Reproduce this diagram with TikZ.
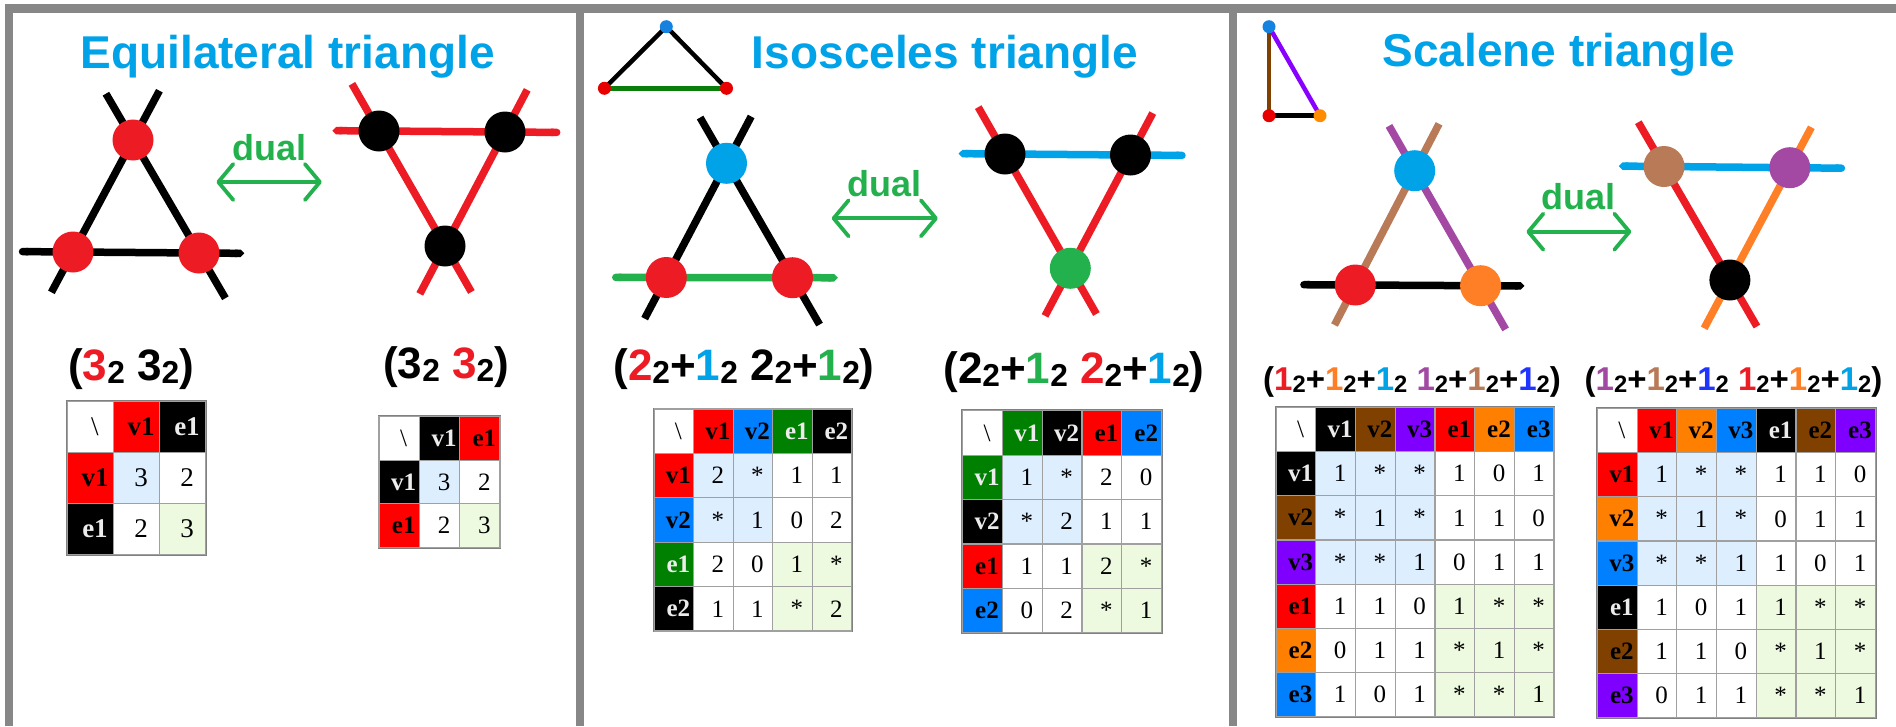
\documentclass[tikz,border=0pt]{standalone}
\usepackage{fontspec}
\setmainfont{Liberation Serif}
\newfontfamily\arialf{Liberation Sans}
\usetikzlibrary{arrows.meta,calc,matrix}

% drawing colours
\definecolor{dred}{HTML}{ED1C24}
\definecolor{dblue}{HTML}{00A2E8}
\definecolor{dgreen}{HTML}{22B14C}
\definecolor{dbrown}{HTML}{B97A57}
\definecolor{dpurple}{HTML}{A349A4}
\definecolor{dorange}{HTML}{FF7F27}
\definecolor{deepblue}{HTML}{1F35FF}
\definecolor{panelgray}{HTML}{878787}
% icon colours
\definecolor{iblue}{HTML}{1582E0}
\definecolor{ired}{HTML}{E80000}
\definecolor{igreen}{HTML}{0A7D0A}
\definecolor{iorange}{HTML}{FF8C00}
\definecolor{ibrown}{HTML}{7F4000}
\definecolor{ipurple}{HTML}{8800FF}
% table colours
\definecolor{tred}{HTML}{FF0000}
\definecolor{tblue}{HTML}{0080FF}
\definecolor{tgreen}{HTML}{008000}
\definecolor{tbrown}{HTML}{804000}
\definecolor{tpurple}{HTML}{8000FF}
\definecolor{torange}{HTML}{FF8000}
\definecolor{vvblue}{HTML}{DDEEFF}
\definecolor{eegreen}{HTML}{EEFADF}
\definecolor{cellgray}{HTML}{A0A0A0}
\definecolor{tblgray}{HTML}{808080}

\newcommand\tabnorm{\fontsize{25pt}{27pt}\selectfont}
\newcommand\tabbig{\fontsize{27pt}{29pt}\selectfont}
\newcommand\twosub{\raisebox{-0.08em}{\scalebox{0.72}{2}}}
\newcommand\dgt[2]{\textcolor{#1}{#2}\twosub}

\pgfdeclarelayer{back}
\pgfsetlayers{back,main}

\tikzset{
  panelbar/.style={draw=panelgray, line width=8.5pt},
  ttl/.style={anchor=base, text=dblue, font=\arialf\bfseries\fontsize{46pt}{50pt}\selectfont},
  fml/.style={anchor=base, font=\arialf\bfseries\fontsize{44pt}{48pt}\selectfont},
  fmls/.style={anchor=base, font=\arialf\bfseries\fontsize{33pt}{36pt}\selectfont},
  bigdot/.style={circle, minimum size=41pt, inner sep=0pt},
  idot/.style={circle, minimum size=13pt, inner sep=0pt},
  tline/.style={line width=7.5pt},
  hline/.style={line width=7.5pt, line cap=round},
  iline/.style={line width=4.5pt},
  dualarr/.style={{Straight Barb[length=15pt, width=36pt, round]}-{Straight Barb[length=15pt, width=36pt, round]}, line width=3.8pt, draw=dgreen},
  dualtxt/.style={anchor=base, yshift=22pt, text=dgreen, font=\arialf\bfseries\fontsize{36pt}{40pt}\selectfont},
  tbl/.style={matrix of nodes, draw=tblgray, line width=1.5pt, inner sep=0pt, column sep=-1.2pt, row sep=-1.2pt},
  cell/.style={draw=cellgray, line width=1.2pt, fill=white, inner sep=0pt, anchor=center, execute at begin node=\hspace*{9pt}},
  hd/.style={execute at begin node=\bfseries},
  hr/.style={hd, fill=tred},
  hb/.style={hd, fill=tblue},
  hg/.style={hd, fill=tgreen, text=gray!15},
  hk/.style={hd, fill=black, text=gray!15},
  hn/.style={hd, fill=tbrown},
  hp/.style={hd, fill=tpurple},
  ho/.style={hd, fill=torange},
  vv/.style={fill=vvblue},
  ee/.style={fill=eegreen},
}

\begin{document}
\begin{tikzpicture}[x=1pt, y=-1pt]
\begin{pgfonlayer}{back}
\fill[white] (0,0) rectangle (1896,726);
\end{pgfonlayer}
\useasboundingbox (0,0) rectangle (1896,726);

% panels
\draw[panelbar] (9,726) |- (1896,8.5);
\draw[panelbar] (580,8.5) -- (580,726);
\draw[panelbar] (1233,8.5) -- (1233,726);

\node[ttl] (eqTitle) at (287.6,68.3) {Equilateral triangle};
\node[ttl] (isoTitle) at (945,68.3) {Isosceles triangle};
\node[ttl] (scaTitle) at (1559,66.7) {Scalene triangle};

% ---- equilateral
\node[bigdot, fill=dred] (eqL-t) at (133,140) {};
\node[bigdot, fill=dred] (eqL-l) at (73,252) {};
\node[bigdot, fill=dred] (eqL-r) at (199,253) {};
\node[bigdot, fill=black] (eqR-a) at (379,131) {};
\node[bigdot, fill=black] (eqR-b) at (505,132) {};
\node[bigdot, fill=black] (eqR-c) at (445,246) {};
\begin{pgfonlayer}{back}
\draw[tline] ($(eqL-l.center)!-0.36!(eqL-t.center)$) -- ($(eqL-t.center)!-0.44!(eqL-l.center)$);
\draw[tline] ($(eqL-t.center)!-0.41!(eqL-r.center)$) -- ($(eqL-r.center)!-0.40!(eqL-t.center)$);
\draw[hline, {Round Cap}-{Triangle Cap}] ($(eqL-l.center)!-0.43!(eqL-r.center)$) -- ($(eqL-r.center)!-0.36!(eqL-l.center)$);
\draw[hline, draw=dred, {Triangle Cap}-{Round Cap}] ($(eqR-a.center)!-0.37!(eqR-b.center)$) -- ($(eqR-b.center)!-0.44!(eqR-a.center)$);
\draw[tline, draw=dred] ($(eqR-a.center)!-0.41!(eqR-c.center)$) -- ($(eqR-c.center)!-0.40!(eqR-a.center)$);
\draw[tline, draw=dred] ($(eqR-b.center)!-0.37!(eqR-c.center)$) -- ($(eqR-c.center)!-0.42!(eqR-b.center)$);
\end{pgfonlayer}
\coordinate (eqD-a) at (216.4,182);
\coordinate (eqD-b) at (321.8,182);
\draw[dualarr] (eqD-a) -- node[dualtxt] (eqDual) {dual} (eqD-b);

\node[fml] (eqFa) at (131,380) {(\dgt{dred}{3} \dgt{black}{3})};
\node[fml] (eqFb) at (446,378.3) {(\dgt{black}{3} \dgt{dred}{3})};

\matrix (eqTa) [tbl, nodes={cell, minimum width=46pt, minimum height=51pt, font=\tabbig}] at (136.5,477.7) {
\textbackslash & |[hr]| v1 & |[hk]| e1 \\
|[hr]| v1 & |[vv]| 3 & 2 \\
|[hk]| e1 & 2 & |[ee]| 3 \\
};
\matrix (eqTb) [tbl, nodes={cell, minimum width=40.3pt, minimum height=43.5pt, font=\tabnorm}] at (439.5,482) {
\textbackslash & |[hk]| v1 & |[hr]| e1 \\
|[hk]| v1 & |[vv]| 3 & 2 \\
|[hr]| e1 & 2 & |[ee]| 3 \\
};

% ---- isosceles
\node[idot, fill=iblue] (isoI-t) at (666.3,26.7) {};
\node[idot, fill=ired] (isoI-l) at (604.4,88.3) {};
\node[idot, fill=ired] (isoI-r) at (726.5,88.3) {};
\begin{pgfonlayer}{back}
\draw[iline] (isoI-l.center) -- (isoI-t.center) -- (isoI-r.center);
\draw[iline, draw=igreen] (isoI-l.center) -- (isoI-r.center);
\end{pgfonlayer}

\node[bigdot, fill=dblue] (isoL-t) at (726.5,163.3) {};
\node[bigdot, fill=dred] (isoL-l) at (666.3,277.5) {};
\node[bigdot, fill=dred] (isoL-r) at (792.5,277.7) {};
\node[bigdot, fill=black] (isoR-a) at (1005,154) {};
\node[bigdot, fill=black] (isoR-b) at (1130.5,155) {};
\node[bigdot, fill=dgreen] (isoR-c) at (1070.3,268.3) {};
\begin{pgfonlayer}{back}
\draw[tline] ($(isoL-l.center)!-0.36!(isoL-t.center)$) -- ($(isoL-t.center)!-0.41!(isoL-l.center)$);
\draw[tline] ($(isoL-t.center)!-0.40!(isoL-r.center)$) -- ($(isoL-r.center)!-0.41!(isoL-t.center)$);
\draw[hline, draw=dgreen, {Round Cap}-{Triangle Cap}] ($(isoL-l.center)!-0.43!(isoL-r.center)$) -- ($(isoL-r.center)!-0.36!(isoL-l.center)$);
\draw[hline, draw=dblue, {Triangle Cap}-{Round Cap}] ($(isoR-a.center)!-0.37!(isoR-b.center)$) -- ($(isoR-b.center)!-0.44!(isoR-a.center)$);
\draw[tline, draw=dred] ($(isoR-a.center)!-0.41!(isoR-c.center)$) -- ($(isoR-c.center)!-0.40!(isoR-a.center)$);
\draw[tline, draw=dred] ($(isoR-b.center)!-0.37!(isoR-c.center)$) -- ($(isoR-c.center)!-0.42!(isoR-b.center)$);
\end{pgfonlayer}
\coordinate (isoD-a) at (831.7,218.3);
\coordinate (isoD-b) at (937.8,218.3);
\draw[dualarr] (isoD-a) -- node[dualtxt] (isoDual) {dual} (isoD-b);

\node[fml] (isoFa) at (744,380) {(\dgt{dred}{2}+\dgt{dblue}{1} \dgt{black}{2}+\dgt{dgreen}{1})};
\node[fml] (isoFb) at (1074,383) {(\dgt{black}{2}+\dgt{dgreen}{1} \dgt{dred}{2}+\dgt{dblue}{1})};

\matrix (isoTa) [tbl, nodes={cell, minimum width=39.5pt, minimum height=44.4pt, font=\tabnorm}] at (752.9,520) {
\textbackslash & |[hr]| v1 & |[hb]| v2 & |[hg]| e1 & |[hk]| e2 \\
|[hr]| v1 & |[vv]| 2 & |[vv]| * & 1 & 1 \\
|[hb]| v2 & |[vv]| * & |[vv]| 1 & 0 & 2 \\
|[hg]| e1 & 2 & 0 & |[ee]| 1 & |[ee]| * \\
|[hk]| e2 & 1 & 1 & |[ee]| * & |[ee]| 2 \\
};
\matrix (isoTb) [tbl, nodes={cell, minimum width=39.8pt, minimum height=44.4pt, font=\tabnorm}] at (1062.1,521.7) {
\textbackslash & |[hg]| v1 & |[hk]| v2 & |[hr]| e1 & |[hb]| e2 \\
|[hg]| v1 & |[vv]| 1 & |[vv]| * & 2 & 0 \\
|[hk]| v2 & |[vv]| * & |[vv]| 2 & 1 & 1 \\
|[hr]| e1 & 1 & 1 & |[ee]| 2 & |[ee]| * \\
|[hb]| e2 & 0 & 2 & |[ee]| * & |[ee]| 1 \\
};

% ---- scalene
\node[idot, fill=iblue] (scaI-t) at (1269,26.7) {};
\node[idot, fill=ired] (scaI-l) at (1269,115.7) {};
\node[idot, fill=iorange] (scaI-r) at (1320,115.7) {};
\begin{pgfonlayer}{back}
\draw[iline, draw=ibrown] (scaI-t.center) -- (scaI-l.center);
\draw[iline, draw=ipurple] (scaI-t.center) -- (scaI-r.center);
\draw[iline] (scaI-l.center) -- (scaI-r.center);
\end{pgfonlayer}

\node[bigdot, fill=dblue] (scaL-t) at (1414.7,170.7) {};
\node[bigdot, fill=dred] (scaL-l) at (1355.3,285) {};
\node[bigdot, fill=dorange] (scaL-r) at (1480.6,285.7) {};
\node[bigdot, fill=dbrown] (scaR-a) at (1664,166.5) {};
\node[bigdot, fill=dpurple] (scaR-b) at (1789.8,167.7) {};
\node[bigdot, fill=black] (scaR-c) at (1729.9,280) {};
\begin{pgfonlayer}{back}
\draw[tline, draw=dbrown] ($(scaL-l.center)!-0.35!(scaL-t.center)$) -- ($(scaL-t.center)!-0.41!(scaL-l.center)$);
\draw[tline, draw=dpurple] ($(scaL-t.center)!-0.39!(scaL-r.center)$) -- ($(scaL-r.center)!-0.38!(scaL-t.center)$);
\draw[hline, {Round Cap}-{Triangle Cap}] ($(scaL-l.center)!-0.44!(scaL-r.center)$) -- ($(scaL-r.center)!-0.35!(scaL-l.center)$);
\draw[hline, draw=dblue, {Triangle Cap}-{Round Cap}] ($(scaR-a.center)!-0.36!(scaR-b.center)$) -- ($(scaR-b.center)!-0.44!(scaR-a.center)$);
\draw[tline, draw=dred] ($(scaR-a.center)!-0.39!(scaR-c.center)$) -- ($(scaR-c.center)!-0.41!(scaR-a.center)$);
\draw[tline, draw=dorange] ($(scaR-b.center)!-0.36!(scaR-c.center)$) -- ($(scaR-c.center)!-0.43!(scaR-b.center)$);
\end{pgfonlayer}
\coordinate (scaD-a) at (1526.4,231.7);
\coordinate (scaD-b) at (1631.3,231.7);
\draw[dualarr] (scaD-a) -- node[dualtxt] (scaDual) {dual} (scaD-b);

\node[fmls] (scaFa) at (1412,390) {(\dgt{dred}{1}+\dgt{dorange}{1}+\dgt{dblue}{1} \dgt{dpurple}{1}+\dgt{dbrown}{1}+\dgt{deepblue}{1})};
\node[fmls] (scaFb) at (1733.5,390) {(\dgt{dpurple}{1}+\dgt{dbrown}{1}+\dgt{deepblue}{1} \dgt{dred}{1}+\dgt{dorange}{1}+\dgt{dblue}{1})};

\matrix (scaTa) [tbl, nodes={cell, minimum width=39.7pt, minimum height=44.2pt, font=\tabnorm}] at (1415.1,562) {
\textbackslash & |[hk]| v1 & |[hn]| v2 & |[hp]| v3 & |[hr]| e1 & |[ho]| e2 & |[hb]| e3 \\
|[hk]| v1 & |[vv]| 1 & |[vv]| * & |[vv]| * & 1 & 0 & 1 \\
|[hn]| v2 & |[vv]| * & |[vv]| 1 & |[vv]| * & 1 & 1 & 0 \\
|[hp]| v3 & |[vv]| * & |[vv]| * & |[vv]| 1 & 0 & 1 & 1 \\
|[hr]| e1 & 1 & 1 & 0 & |[ee]| 1 & |[ee]| * & |[ee]| * \\
|[ho]| e2 & 0 & 1 & 1 & |[ee]| * & |[ee]| 1 & |[ee]| * \\
|[hb]| e3 & 1 & 0 & 1 & |[ee]| * & |[ee]| * & |[ee]| 1 \\
};
\matrix (scaTb) [tbl, nodes={cell, minimum width=39.7pt, minimum height=44.2pt, font=\tabnorm}] at (1736.4,563) {
\textbackslash & |[hr]| v1 & |[ho]| v2 & |[hb]| v3 & |[hk]| e1 & |[hn]| e2 & |[hp]| e3 \\
|[hr]| v1 & |[vv]| 1 & |[vv]| * & |[vv]| * & 1 & 1 & 0 \\
|[ho]| v2 & |[vv]| * & |[vv]| 1 & |[vv]| * & 0 & 1 & 1 \\
|[hb]| v3 & |[vv]| * & |[vv]| * & |[vv]| 1 & 1 & 0 & 1 \\
|[hk]| e1 & 1 & 0 & 1 & |[ee]| 1 & |[ee]| * & |[ee]| * \\
|[hn]| e2 & 1 & 1 & 0 & |[ee]| * & |[ee]| 1 & |[ee]| * \\
|[hp]| e3 & 0 & 1 & 1 & |[ee]| * & |[ee]| * & |[ee]| 1 \\
};

\end{tikzpicture}
\end{document}
